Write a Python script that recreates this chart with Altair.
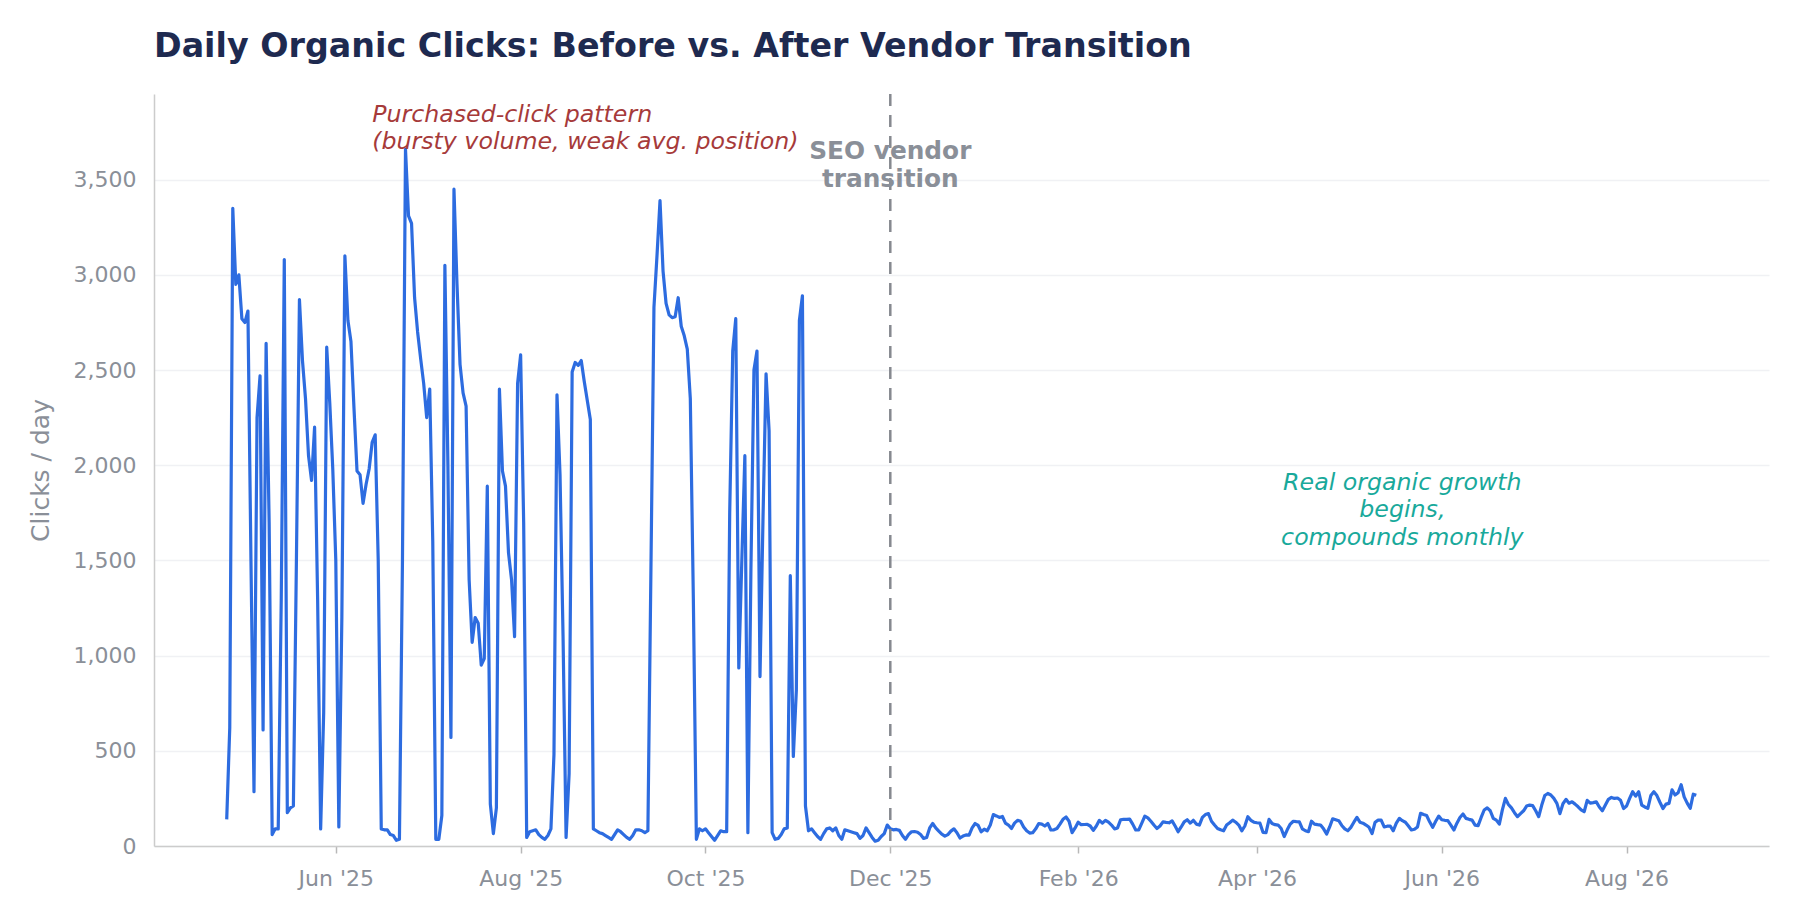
import altair as alt
import pandas as pd

# ---------------- data ----------------
START_DATE = "2025-04-26"          # first day of the daily series
TRANSITION_DATE = "2025-12-01"     # SEO vendor transition

# daily organic clicks (one value per day from START_DATE)
clicks = [
    140, 620, 3350, 2950, 3000, 2770, 2750, 2810, 1500, 285,
    2250, 2470, 610, 2640, 1700, 60, 90, 90, 1300, 3080,
    175, 200, 210, 1500, 2870, 2550, 2350, 2050, 1920, 2200,
    1300, 90, 700, 2620, 2330, 1980, 1500, 100, 1200, 3100,
    2760, 2650, 2300, 1970, 1950, 1800, 1900, 1980, 2120, 2160,
    1500, 90, 85, 85, 60, 55, 30, 35, 1500, 3660,
    3310, 3270, 2880, 2700, 2560, 2430, 2250, 2400, 1600, 35,
    35, 160, 3050, 2000, 570, 3450, 2950, 2530, 2380, 2310,
    1400, 1070, 1200, 1170, 950, 985, 1890, 220, 65, 200,
    2400, 1970, 1890, 1540, 1400, 1100, 2430, 2580, 1700, 45,
    75, 80, 85, 60, 45, 35, 55, 90, 480, 2370,
    1950, 1100, 45, 380, 2490, 2540, 2525, 2550, 2440, 2340,
    2240, 90, 80, 70, 65, 55, 45, 35, 60, 85,
    75, 60, 45, 35, 55, 85, 85, 80, 70, 80,
    1450, 2830, 3100, 3390, 3020, 2850, 2790, 2775, 2780, 2880,
    2730, 2680, 2610, 2350, 1300, 35, 90, 80, 90, 70,
    50, 30, 55, 80, 75, 75, 1750, 2600, 2770, 935,
    1500, 2050, 70, 1450, 2500, 2600, 890, 1730, 2480, 2180,
    70, 35, 40, 60, 90, 95, 1420, 470, 820, 2760,
    2890, 210, 80, 90, 70, 50, 35, 65, 90, 95,
    80, 95, 55, 35, 85, 80, 75, 70, 65, 40,
    55, 95, 70, 45, 25, 30, 50, 65,
    110, 90,
    85, 87, 82, 55, 35, 60, 75, 76, 72, 60,
    40, 45, 95, 118, 95, 78, 62, 52, 60, 78,
    90, 70, 42, 52, 58, 57, 95, 118, 108, 75,
    88, 80, 110, 165, 158, 150, 155, 120, 110, 92,
    120, 135, 130, 100, 80, 68, 70, 90, 118, 115,
    105, 118, 84, 85, 92, 115, 140, 152, 130, 70,
    95, 125, 112, 113, 114, 105, 82, 105, 135, 120,
    135, 125, 110, 90, 95, 138, 140, 140, 141, 115,
    84, 85, 120, 157, 148, 130, 110, 92, 105, 127,
    124, 122, 132, 105, 75, 100, 127, 138, 120, 135,
    115, 110, 150, 165, 170, 130, 110, 92, 85, 80,
    110, 122, 136, 125, 110, 80, 105, 154, 135, 125,
    122, 120, 72, 70, 140, 118, 112, 110, 92, 50,
    85, 115, 130, 128, 127, 90, 80, 75, 130, 115,
    112, 110, 90, 63, 100, 143, 138, 133, 108, 90,
    80, 98, 125, 150, 125, 120, 110, 98, 65, 125,
    136, 136, 100, 104, 105, 80, 120, 145, 133, 125,
    105, 84, 88, 100, 172, 165, 160, 127, 98, 130,
    157, 138, 135, 133, 110, 84, 120, 150, 168, 145,
    140, 136, 110, 107, 150, 189, 200, 185, 145, 136,
    115, 190, 250, 218, 200, 175, 154, 170, 185, 210,
    215, 212, 185, 154, 215, 265, 276, 268, 250, 224,
    170, 222, 245, 225, 232, 220, 206, 190, 180, 240,
    225, 228, 232, 205, 185, 215, 245, 255, 250, 252,
    240, 197, 210, 250, 285, 262, 285, 215, 205, 198,
    265, 285, 265, 230, 197, 220, 224, 295, 268, 280,
    322, 258, 225, 198, 272, 267,
]

# x-axis tick dates (year, month) and y-axis ticks
tick_months = [(2025, 6), (2025, 8), (2025, 10), (2025, 12),
               (2026, 2), (2026, 4), (2026, 6), (2026, 8)]
y_ticks = [0, 500, 1000, 1500, 2000, 2500, 3000, 3500]
y_max = 3950

# annotations
purchased_lines = ["Purchased-click pattern", "(bursty volume, weak avg. position)"]
purchased_date = "2025-06-13"
purchased_y = [3842, 3698]

vendor_lines = ["SEO vendor", "transition"]
vendor_y = [3647, 3500]

growth_lines = ["Real organic growth", "begins,", "compounds monthly"]
growth_date = "2026-05-19"
growth_y = [1909, 1765, 1620]

TITLE = "Daily Organic Clicks: Before vs. After Vendor Transition"

# ---------------- styling ----------------
FONT = "DejaVu Sans"
BLUE = "#2d6ce0"
NAVY = "#1e2a50"
GREY = "#8a8f98"
RED = "#a63a3a"
TEAL = "#19a99b"

dates = pd.date_range(START_DATE, periods=len(clicks), freq="D").strftime("%Y-%m-%d")
df = pd.DataFrame({"date": list(dates), "clicks": clicks})

x_scale = alt.Scale(
    type="utc",
    domain=[alt.DateTime(year=2025, month=4, date=2, utc=True),
            alt.DateTime(year=2026, month=9, date=17, utc=True)],
)
x_axis = alt.Axis(
    values=[alt.DateTime(year=y, month=m, date=1, utc=True) for y, m in tick_months],
    format="%b '%y",
    grid=False,
    tickSize=7,
    tickWidth=1.5,
    tickColor="#b8b8b8",
    labelPadding=15,
    labelFlush=False,
    labelOverlap=False,
    domainColor="#cccccc",
    domainWidth=1.5,
)
y_scale = alt.Scale(domain=[0, y_max], nice=False, zero=True)
y_axis = alt.Axis(
    values=y_ticks,
    format=",.0f",
    grid=True,
    gridColor="#f0f1f4",
    gridWidth=1.3,
    ticks=False,
    labelPadding=18,
    labelFlush=False,
    titlePadding=20,
    domainColor="#cccccc",
    domainWidth=1.5,
)

line = alt.Chart(df).mark_line(
    color=BLUE, strokeWidth=3.2, strokeJoin="round"
).encode(
    x=alt.X("date:T", scale=x_scale, axis=x_axis, title=None),
    y=alt.Y("clicks:Q", scale=y_scale, axis=y_axis, title="Clicks / day"),
)

rule_df = pd.DataFrame({"date": [TRANSITION_DATE]})
rule = alt.Chart(rule_df).mark_rule(
    color="#86898f", strokeWidth=2.5, strokeDash=[12, 9]
).encode(x="date:T")

purchased_df = pd.DataFrame({
    "date": [purchased_date] * len(purchased_lines),
    "clicks": purchased_y,
    "label": purchased_lines,
})
purchased = alt.Chart(purchased_df).mark_text(
    font=FONT, fontSize=23.7, fontStyle="italic", color=RED,
    align="left", baseline="middle",
).encode(x="date:T", y="clicks:Q", text="label:N")

vendor_df = pd.DataFrame({
    "date": [TRANSITION_DATE] * len(vendor_lines),
    "clicks": vendor_y,
    "label": vendor_lines,
})
vendor = alt.Chart(vendor_df).mark_text(
    font=FONT, fontSize=24.8, fontWeight="bold", color=GREY,
    align="center", baseline="middle",
).encode(x="date:T", y="clicks:Q", text="label:N")

growth_df = pd.DataFrame({
    "date": [growth_date] * len(growth_lines),
    "clicks": growth_y,
    "label": growth_lines,
})
growth = alt.Chart(growth_df).mark_text(
    font=FONT, fontSize=23.7, fontStyle="italic", color=TEAL,
    align="center", baseline="middle",
).encode(x="date:T", y="clicks:Q", text="label:N")

chart = alt.layer(line, rule, purchased, vendor, growth).properties(
    width=1615,
    height=752,
    title=alt.TitleParams(
        text=TITLE, anchor="start", frame="group", offset=28,
        font=FONT, fontSize=33.3, fontWeight="bold", color=NAVY,
    ),
    autosize=alt.AutoSizeParams(type="none"),
    padding={"left": 146, "top": 86, "right": 20, "bottom": 50},
).configure_axis(
    labelFont=FONT, titleFont=FONT,
    labelColor=GREY, titleColor=GREY,
    labelFontSize=22, titleFontSize=25, titleFontWeight="normal",
).configure_view(strokeWidth=0)

chart.save("out.html", embed_options={"renderer": "svg", "actions": False})
